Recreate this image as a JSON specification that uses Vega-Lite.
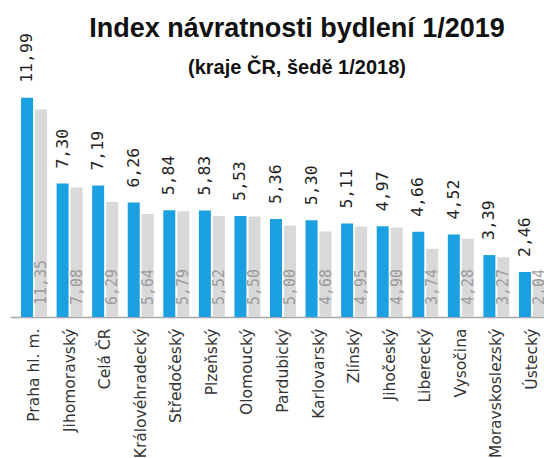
{
  "$schema": "https://vega.github.io/schema/vega-lite/v6.json",
  "width": 534,
  "height": 227,
  "autosize": {"type": "none"},
  "padding": {"left": 10, "top": 90, "right": 0, "bottom": 141},
  "background": "white",
  "title": {
    "text": "Index návratnosti bydlení 1/2019",
    "subtitle": "(kraje ČR, šedě 1/2018)",
    "font": "Liberation Sans",
    "fontSize": 27,
    "fontWeight": "bold",
    "color": "#111111",
    "subtitleFont": "Liberation Sans",
    "subtitleFontSize": 20,
    "subtitleFontWeight": "bold",
    "subtitleColor": "#111111",
    "anchor": "middle",
    "frame": "group",
    "offset": 6,
    "dx": 20,
    "dy": 52,
    "subtitlePadding": 15
  },
  "config": {
    "locale": {"number": {"decimal": ",", "thousands": " ", "grouping": [3], "currency": ["", " Kč"]}},
    "view": {"stroke": null}
  },
  "data": {
    "values": [
      {"region": "Praha hl. m.", "year": "2019", "value": 11.99},
      {"region": "Praha hl. m.", "year": "2018", "value": 11.35},
      {"region": "Jihomoravský", "year": "2019", "value": 7.30},
      {"region": "Jihomoravský", "year": "2018", "value": 7.08},
      {"region": "Celá ČR", "year": "2019", "value": 7.19},
      {"region": "Celá ČR", "year": "2018", "value": 6.29},
      {"region": "Královéhradecký", "year": "2019", "value": 6.26},
      {"region": "Královéhradecký", "year": "2018", "value": 5.64},
      {"region": "Středočeský", "year": "2019", "value": 5.84},
      {"region": "Středočeský", "year": "2018", "value": 5.79},
      {"region": "Plzeňský", "year": "2019", "value": 5.83},
      {"region": "Plzeňský", "year": "2018", "value": 5.52},
      {"region": "Olomoucký", "year": "2019", "value": 5.53},
      {"region": "Olomoucký", "year": "2018", "value": 5.50},
      {"region": "Pardubický", "year": "2019", "value": 5.36},
      {"region": "Pardubický", "year": "2018", "value": 5.00},
      {"region": "Karlovarský", "year": "2019", "value": 5.30},
      {"region": "Karlovarský", "year": "2018", "value": 4.68},
      {"region": "Zlínský", "year": "2019", "value": 5.11},
      {"region": "Zlínský", "year": "2018", "value": 4.95},
      {"region": "Jihočeský", "year": "2019", "value": 4.97},
      {"region": "Jihočeský", "year": "2018", "value": 4.90},
      {"region": "Liberecký", "year": "2019", "value": 4.66},
      {"region": "Liberecký", "year": "2018", "value": 3.74},
      {"region": "Vysočina", "year": "2019", "value": 4.52},
      {"region": "Vysočina", "year": "2018", "value": 4.28},
      {"region": "Moravskoslezský", "year": "2019", "value": 3.39},
      {"region": "Moravskoslezský", "year": "2018", "value": 3.27},
      {"region": "Ústecký", "year": "2019", "value": 2.46},
      {"region": "Ústecký", "year": "2018", "value": 2.04}
    ]
  },
  "encoding": {
    "x": {
      "field": "region",
      "type": "nominal",
      "sort": null,
      "scale": {"range": [0, 546], "paddingInner": 0.269, "paddingOuter": 0.31},
      "axis": {
        "title": null,
        "ticks": false,
        "grid": false,
        "labelAngle": -90,
        "labelPadding": 11,
        "labelFont": "DejaVu Sans",
        "labelFontSize": 15.5,
        "labelColor": "#333333",
        "labelOverlap": false,
        "domainColor": "#a6a6a6",
        "domainWidth": 1.5
      }
    },
    "xOffset": {
      "field": "year",
      "type": "nominal",
      "sort": ["2019", "2018"],
      "scale": {"paddingInner": 0.1429, "paddingOuter": 0}
    }
  },
  "layer": [
    {
      "mark": {"type": "bar"},
      "encoding": {
        "y": {"field": "value", "type": "quantitative", "scale": {"domain": [0, 12.42], "nice": false}, "axis": null},
        "color": {"field": "year", "type": "nominal", "scale": {"domain": ["2019", "2018"], "range": ["#1ba1e2", "#d9d9d9"]}, "legend": null}
      }
    },
    {
      "transform": [{"filter": "datum.year == '2019'"}],
      "mark": {"type": "text", "angle": 270, "align": "left", "baseline": "middle", "dx": 15, "font": "DejaVu Sans Mono", "fontSize": 16.5, "color": "#222222"},
      "encoding": {
        "y": {"field": "value", "type": "quantitative"},
        "text": {"field": "value", "type": "quantitative", "format": ".2f"}
      }
    },
    {
      "transform": [{"filter": "datum.year == '2018'"}],
      "mark": {"type": "text", "angle": 270, "align": "left", "baseline": "middle", "dx": 12, "font": "DejaVu Sans Mono", "fontSize": 15, "color": "#9c9c9c"},
      "encoding": {
        "y": {"datum": 0, "type": "quantitative"},
        "text": {"field": "value", "type": "quantitative", "format": ".2f"}
      }
    }
  ]
}
